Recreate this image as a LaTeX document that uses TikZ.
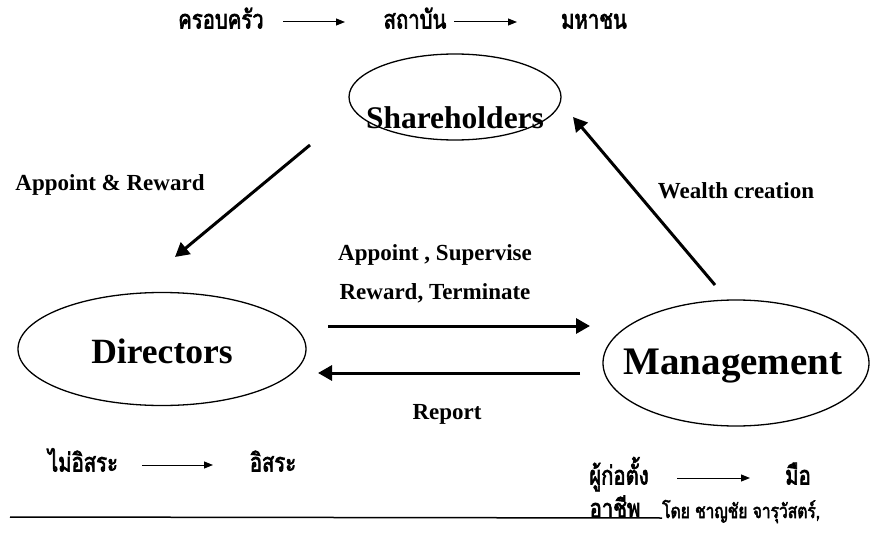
\documentclass[tikz,border=0pt]{standalone}
\usepackage{fontspec}
\setmainfont{Liberation Serif}
\newfontfamily\thaifont[Script=Thai, FakeBold=2.5, FakeStretch=0.78]{Loma}
\usetikzlibrary{shapes.geometric,arrows.meta}

\tikzset{
  party/.style={ellipse, draw, line width=1.3pt, inner sep=0pt},
  partytext/.style={font=\bfseries\fontsize{#1}{40}\selectfont},
  lbl/.style={font=\bfseries\fontsize{23}{26}\selectfont},
  thai/.style={font=\thaifont\fontsize{26}{30}\selectfont, text height=19pt, text depth=6pt, inner sep=0pt},
  byline/.style={font=\thaifont\fontsize{20}{22}\selectfont, inner sep=0pt},
  bigarrow/.style={line width=3pt, -{Triangle[length=14pt,width=15pt]}},
  thinarrow/.style={line width=1pt, -{Triangle[length=9pt,width=7pt]}},
}

\begin{document}
\begin{tikzpicture}[x=1pt,y=-1pt]
\useasboundingbox (0,0) rectangle (895,535);
% ownership
\node[thai] (family) at (221,22) {ครอบครัว};
\node[thai] (inst) at (415,22) {สถาบัน};
\node[thai] (public) at (594,22) {มหาชน};
\draw[thinarrow] ([xshift=62pt]family.center) -- ([xshift=-70pt]inst.center);
\draw[thinarrow] ([xshift=39pt]inst.center) -- ([xshift=-77pt]public.center);
% parties
\node[party, minimum width=212pt, minimum height=86pt,
  label={[partytext=31.5, yshift=-21pt]center:Shareholders}] (share) at (455,97) {};
\node[party, minimum width=288pt, minimum height=113pt,
  label={[partytext=35.5, yshift=-2pt]center:Directors}] (dir) at (162,349) {};
\node[party, minimum width=266pt, minimum height=126pt,
  label={[partytext=39, yshift=-3pt, xshift=-3pt]center:Management}] (mgmt) at (736,363) {};
% arrows
\coordinate (sd-a) at (310,145);
\coordinate (sd-b) at (175,257);
\coordinate (ms-a) at (715,285);
\coordinate (ms-b) at (573,117);
\coordinate (dm-a) at (328,326);
\coordinate (dm-b) at (590,326);
\coordinate (md-a) at (580,373);
\coordinate (md-b) at (318,373);
\draw[bigarrow] (sd-a) -- (sd-b);
\draw[bigarrow] (ms-a) -- (ms-b);
\draw[bigarrow] (dm-a) -- (dm-b);
\draw[bigarrow] (md-a) -- (md-b);
% labels
\node[lbl] (appoint) at (110,185) {Appoint \& Reward};
\node[lbl] (wealth) at (736,191) {Wealth creation};
\node[lbl] (sup) at (435,255) {Appoint , Supervise};
\node[lbl] (term) at (435,293) {Reward, Terminate};
\node[lbl] (report) at (447,414) {Report};
% independence
\node[thai] (notind) at (83,465) {ไม่อิสระ};
\node[thai] (ind) at (273,465) {อิสระ};
\draw[thinarrow] ([xshift=59pt]notind.center) -- ([xshift=-60pt]ind.center);
% founder
\node[thai] (founder) at (619,478) {ผู้ก่อตั้ง};
\node[thai] (pro) at (798,478) {มือ};
\draw[thinarrow] ([xshift=58pt]founder.center) -- ([xshift=-48pt]pro.center);
% bottom rule
\node[byline, anchor=base west] (by) at (662,518) {โดย ชาญชัย จารุวัสตร์,};
\coordinate (rule-l) at (10,517);
\draw[line width=1.5pt] (rule-l) -- (by.base west);
\node[thai] (pro2) at (615,511) {อาชีพ};
\end{tikzpicture}
\end{document}
